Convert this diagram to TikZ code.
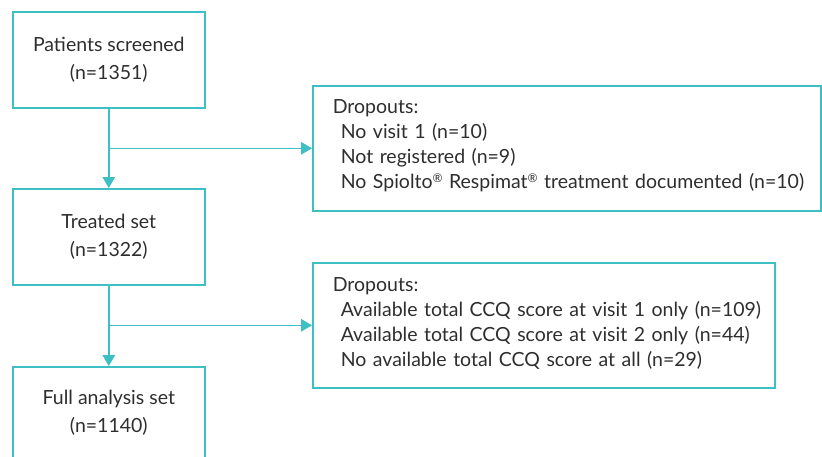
\documentclass[tikz,border=0pt]{standalone}
\usepackage{fontspec}
\setmainfont{Lato}
\usetikzlibrary{arrows.meta}
\definecolor{tealc}{HTML}{3EBFC3}
\definecolor{txt}{HTML}{2E2E2E}
\newcommand{\itemline}[1]{\hspace*{8pt}\mbox{#1}}
\newcommand{\regmark}{\raisebox{0.55ex}{\fontsize{12}{12}\selectfont ®}}
\begin{document}
\begin{tikzpicture}[x=1pt,y=-1pt,
  box/.style={draw=tealc, line width=1.6pt, text=txt, anchor=north west},
  mainbox/.style={box, font=\fontsize{19.5}{28}\selectfont, minimum width=192pt, minimum height=96pt, align=center, inner sep=0pt},
  dropbox/.style={box, font=\fontsize{19.5}{25}\selectfont, align=left, inner xsep=20pt, inner ysep=0pt},
  arr/.style={draw=tealc, line width=1.6pt, -{Triangle[length=11pt,width=12.5pt]}}]
  \useasboundingbox (0,0) rectangle (822,456);
  \node[mainbox] (ps) at (12,11) {Patients screened\\(n=1351)};
  \node[mainbox] (ts) at (12,188) {Treated set\\(n=1322)};
  \node[mainbox, minimum height=92pt] (fas) at (12,366) {Full analysis set\\(n=1140)};
  \node[dropbox, minimum width=508pt, minimum height=125pt, text width=468pt] (d1) at (312,85)
    {\mbox{Dropouts:}\\
     \itemline{No visit 1 (n=10)}\\
     \itemline{Not registered (n=9)}\\
     \itemline{No Spiolto\regmark{} Respimat\regmark{} treatment documented (n=10)}\par\vspace*{6pt}};
  \node[dropbox, minimum width=462pt, minimum height=125pt, text width=422pt] (d2) at (312,262)
    {\mbox{Dropouts:}\\
     \itemline{Available total CCQ score at visit 1 only (n=109)}\\
     \itemline{Available total CCQ score at visit 2 only (n=44)}\\
     \itemline{No available total CCQ score at all (n=29)}\par\vspace*{4pt}};
  \draw[arr] (ps.south) -- (ts.north);
  \draw[arr] (ps.south |- d1.west) -- (d1.west);
  \draw[arr] (ts.south) -- (fas.north);
  \draw[arr] (ts.south |- d2.west) -- (d2.west);
\end{tikzpicture}
\end{document}
